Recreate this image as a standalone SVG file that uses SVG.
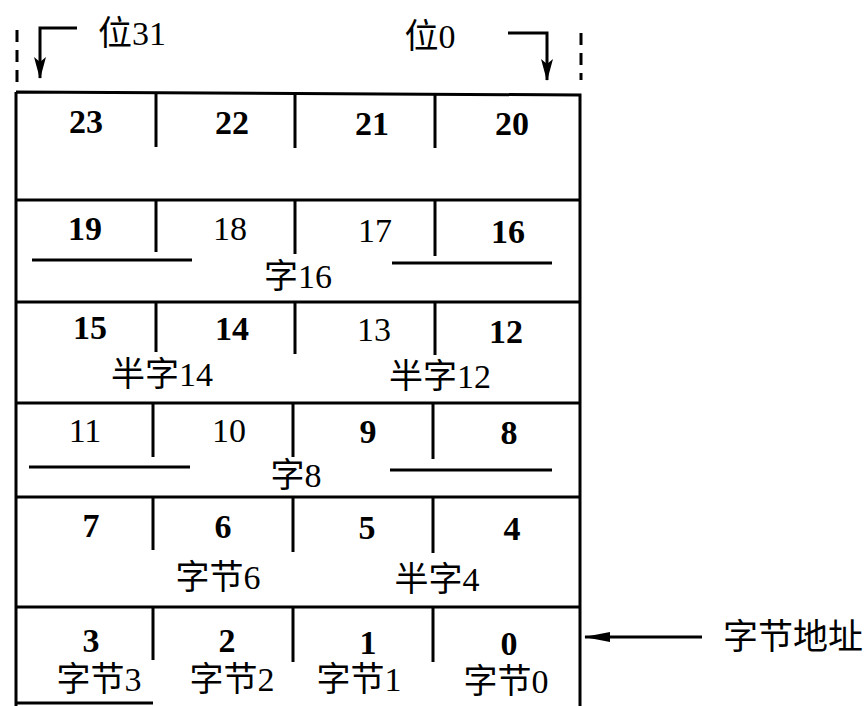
<svg xmlns="http://www.w3.org/2000/svg" width="868" height="706" viewBox="0 0 868 706">
<style>
text{font-family:"Liberation Serif","Noto Sans CJK SC",serif;font-size:34px;fill:#000;text-anchor:middle}
.n{font-weight:bold}
.l{stroke:#000;stroke-width:3;fill:none}
.t{stroke:#000;stroke-width:3;fill:none}
.d{stroke:#000;stroke-width:3;fill:none;stroke-dasharray:12,8}
</style>
<defs>
<marker id="ah" markerWidth="22" markerHeight="12" refX="21" refY="6" orient="auto" markerUnits="userSpaceOnUse" viewBox="0 0 22 12">
<path d="M0,0 L22,6 L0,12 L5,6 Z" fill="#000"/>
</marker>
<marker id="ah2" markerWidth="26" markerHeight="12" refX="25" refY="6" orient="auto" markerUnits="userSpaceOnUse" viewBox="0 0 26 12">
<path d="M0,1 L26,6 L0,11 Z" fill="#000"/>
</marker>
</defs>
<g id="frame">
<path class="l" d="M16,92 L580,95 V706 M16,92 V706"/>
<path class="l" d="M16,200 H580 M16,302 H580 M16,403 H580 M16,497 H580 M16,607 H580 M16,703 H153"/>
</g>
<g id="row1">
<path class="t" d="M156,93 V147 M295,94 V148 M435,95 V148"/>
<text class="n" x="86" y="133">23</text>
<text class="n" x="232" y="134">22</text>
<text class="n" x="372" y="135">21</text>
<text class="n" x="512" y="135">20</text>
</g>
<g id="row2">
<path class="t" d="M156,200 V252 M295,200 V254 M435,200 V256"/>
<text class="n" x="85" y="240">19</text>
<text x="230" y="240">18</text>
<text x="375" y="242">17</text>
<text class="n" x="508" y="243">16</text>
<path class="t" d="M32,260 H192 M392,263 H552"/>
<text x="298" y="288">字16</text>
</g>
<g id="row3">
<path class="t" d="M156,302 V352 M295,302 V354 M435,302 V355"/>
<text class="n" x="90" y="339">15</text>
<text class="n" x="232" y="340">14</text>
<text x="374" y="341">13</text>
<text class="n" x="506" y="343">12</text>
<text x="162" y="386">半字14</text>
<text x="440" y="388">半字12</text>
</g>
<g id="row4">
<path class="t" d="M153,403 V457 M293,403 V457 M433,403 V459"/>
<text x="85" y="442">11</text>
<text x="229" y="442">10</text>
<text class="n" x="368" y="443">9</text>
<text class="n" x="509" y="444">8</text>
<path class="t" d="M29,467 H190 M390,470 H552"/>
<text x="296" y="487">字8</text>
</g>
<g id="row5">
<path class="t" d="M153,497 V550 M293,497 V552 M433,497 V553"/>
<text class="n" x="91" y="537">7</text>
<text class="n" x="223" y="538">6</text>
<text class="n" x="367" y="539">5</text>
<text class="n" x="512" y="540">4</text>
<text x="218" y="589">字节6</text>
<text x="437" y="591">半字4</text>
</g>
<g id="row6">
<path class="t" d="M153,607 V660 M293,607 V662 M433,607 V662"/>
<text class="n" x="91" y="652">3</text>
<text class="n" x="227" y="652">2</text>
<text class="n" x="368" y="654">1</text>
<text class="n" x="509" y="655">0</text>
<text x="99" y="691">字节3</text>
<text x="232" y="691">字节2</text>
<text x="359" y="691">字节1</text>
<text x="506" y="693">字节0</text>
</g>
<g id="bits">
<path class="d" d="M17,30 V90 M581,33 V80"/>
<text x="132" y="45">位31</text>
<text x="430" y="48">位0</text>
</g>
<g id="connectors">
<path class="t" d="M77,28 H40 V78" marker-end="url(#ah)"/>
<path class="t" d="M508,33 H547 V80" marker-end="url(#ah)"/>
<path class="t" d="M702,637 H585" marker-end="url(#ah2)"/>
</g>
<g id="addr">
<text x="793" y="649" style="font-size:35px">字节地址</text>
</g>
</svg>
